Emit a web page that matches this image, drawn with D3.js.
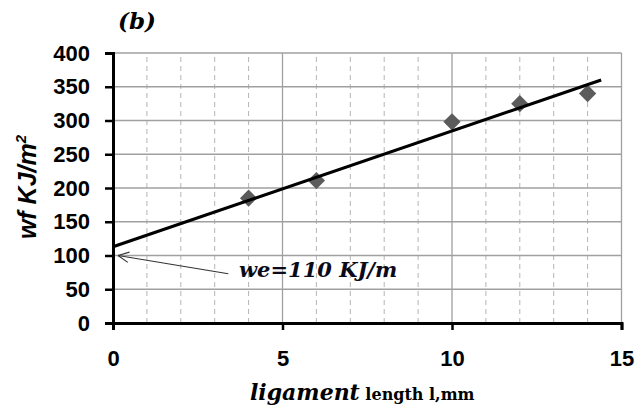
<!DOCTYPE html>
<html>
<head>
<meta charset="utf-8">
<script src="https://cdn.jsdelivr.net/npm/d3@7"></script>
<style>
  body { margin: 0; background: #fff; }
  svg { display: block; }
</style>
</head>
<body>
<div class="chart"></div>
<script>
var width = 643,
    height = 410;

// data
var lengths = [4, 6, 10, 12, 14];
var wfValues = [185, 211, 298, 325, 340];
var trendX = [0, 14.4];
var trendY = [113, 360];
var xTicks = [0, 5, 10, 15];
var yTicks = [0, 50, 100, 150, 200, 250, 300, 350, 400];
var minorX = [1, 2, 3, 4, 6, 7, 8, 9, 11, 12, 13, 14];
var weValue = 110;

var margin = {left: 113, right: 21.5, top: 53, bottom: 87};

var svg = d3.select(".chart").append("svg")
    .attr("width", width)
    .attr("height", height);

var x = d3.scaleLinear().domain([0, 15]).range([margin.left, width - margin.right]);
var y = d3.scaleLinear().domain([0, 400]).range([height - margin.bottom, margin.top]);

var grid = svg.append("g");

// minor dashed verticals
grid.selectAll(".minor")
    .data(minorX)
    .enter().append("line")
      .attr("x1", function(d) { return x(d); })
      .attr("x2", function(d) { return x(d); })
      .attr("y1", y(0))
      .attr("y2", y(400))
      .attr("stroke", "#b4b4b4")
      .attr("stroke-width", 1)
      .attr("stroke-dasharray", "5,4");

// major verticals
grid.selectAll(".majx")
    .data(xTicks.slice(1))
    .enter().append("line")
      .attr("x1", function(d) { return x(d); })
      .attr("x2", function(d) { return x(d); })
      .attr("y1", y(0))
      .attr("y2", y(400))
      .attr("stroke", "#a0a0a0")
      .attr("stroke-width", 1.3);

// horizontals
grid.selectAll(".majy")
    .data(yTicks.slice(1))
    .enter().append("line")
      .attr("x1", x(0))
      .attr("x2", x(15))
      .attr("y1", function(d) { return y(d); })
      .attr("y2", function(d) { return y(d); })
      .attr("stroke", "#a0a0a0")
      .attr("stroke-width", 1.3);

// axes
var xAxis = svg.append("g")
    .attr("transform", "translate(0," + y(0) + ")")
    .call(d3.axisBottom(x).tickValues(xTicks).tickSize(7).tickPadding(20).tickFormat(d3.format("d")));

var yAxis = svg.append("g")
    .attr("transform", "translate(" + x(0) + ",0)")
    .call(d3.axisLeft(y).tickValues(yTicks).tickSize(8).tickPadding(15).tickFormat(d3.format("d")));

[xAxis, yAxis].forEach(function(a) {
  a.select(".domain").attr("stroke", "#000").attr("stroke-width", 3);
  a.selectAll(".tick line").attr("stroke", "#000").attr("stroke-width", 2.5);
  a.selectAll("text")
    .attr("fill", "#000")
    .style("font-family", "'Liberation Sans', Arial, sans-serif")
    .style("font-weight", "bold")
    .style("font-size", "22px");
});

// points
svg.selectAll(".pt")
    .data(lengths)
    .enter().append("path")
      .attr("d", d3.symbol().type(d3.symbolDiamond2).size(190))
      .attr("transform", function(d, i) { return "translate(" + x(d) + "," + y(wfValues[i]) + ")"; })
      .attr("fill", "#5b5b5b");

// trend line
svg.append("line")
    .attr("x1", x(trendX[0]))
    .attr("y1", y(trendY[0]))
    .attr("x2", x(trendX[1]))
    .attr("y2", y(trendY[1]))
    .attr("stroke", "#000")
    .attr("stroke-width", 3.2);

// annotation arrow pointing at the intercept
var tipX = x(0) + 5, tipY = y(100);
var tailX = x(3.4), tailY = y(73);
svg.append("line")
    .attr("x1", tailX).attr("y1", tailY)
    .attr("x2", tipX).attr("y2", tipY)
    .attr("stroke", "#333").attr("stroke-width", 1.1);
var ang = Math.atan2(tailY - tipY, tailX - tipX);
[-0.45, 0.45].forEach(function(da) {
  svg.append("line")
      .attr("x1", tipX).attr("y1", tipY)
      .attr("x2", tipX + 12 * Math.cos(ang + da))
      .attr("y2", tipY + 12 * Math.sin(ang + da))
      .attr("stroke", "#333").attr("stroke-width", 1.1);
});

svg.append("text")
    .attr("x", 239)
    .attr("y", 277)
    .style("font-family", "'DejaVu Serif', 'Liberation Serif', serif")
    .style("font-weight", "bold")
    .style("font-style", "italic")
    .style("font-size", "21px")
    .attr("fill", "#0a0a1a")
    .text("we=" + weValue + " KJ/m");

// title
svg.append("text")
    .attr("x", 118)
    .attr("y", 29)
    .style("font-family", "'DejaVu Serif', serif")
    .style("font-weight", "bold")
    .style("font-style", "italic")
    .style("font-size", "23px")
    .text("(b)");

// y label
var yl = svg.append("text")
    .attr("transform", "translate(36,187) rotate(-90)")
    .attr("text-anchor", "middle")
    .style("font-family", "'Liberation Sans', Arial, sans-serif")
    .style("font-weight", "bold")
    .style("font-style", "italic")
    .style("font-size", "25px");
yl.append("tspan").text("wf KJ/m");
yl.append("tspan").attr("dy", -10).style("font-size", "15px").text("2");

// x label
var xl = svg.append("text")
    .attr("x", 250)
    .attr("y", 400)
    .style("font-family", "'DejaVu Serif', serif")
    .style("font-weight", "bold");
xl.append("tspan").style("font-style", "italic").style("font-size", "22px").text("ligament");
xl.append("tspan").style("font-size", "16px").text(" length l,mm");
</script>
</body>
</html>
